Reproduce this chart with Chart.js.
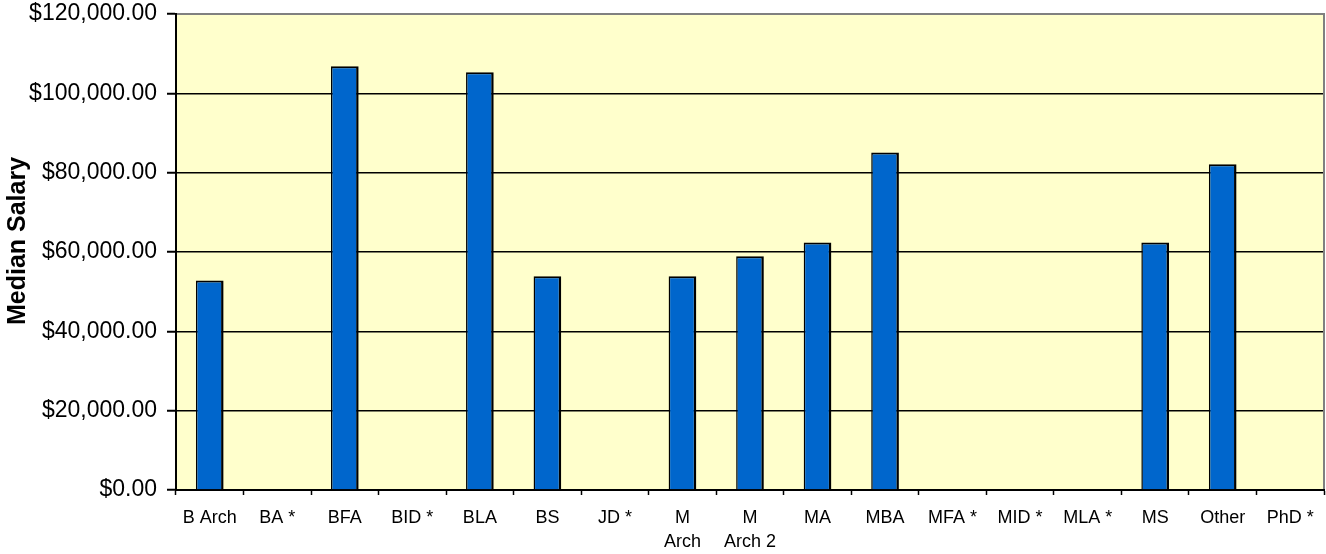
<!DOCTYPE html>
<html>
<head>
<meta charset="utf-8">
<script src="https://cdn.jsdelivr.net/npm/chart.js@4"></script>
<style>
  html, body { margin: 0; padding: 0; background: #ffffff; }
  #wrap { width: 1326px; height: 554px; }
</style>
</head>
<body>
<div id="wrap"><canvas id="c" width="1326" height="554"></canvas></div>
<script>
const categories = [
  'B Arch', 'BA *', 'BFA', 'BID *', 'BLA', 'BS', 'JD *', ['M', 'Arch'], ['M', 'Arch 2'],
  'MA', 'MBA', 'MFA *', 'MID *', 'MLA *', 'MS', 'Other', 'PhD *'
];
const medianSalary = [
  52800, null, 106800, null, 105300, 53900, null, 53900, 58900,
  62400, 85100, null, null, null, 62400, 82100, null
];
const yTicks = { min: 0, max: 120000, step: 20000 };
const axisTitle = 'Median Salary';

const FONT = "'Liberation Sans', Arial, sans-serif";

const bgPlugin = {
  id: 'plotBg',
  beforeDraw(chart) {
    const a = chart.chartArea, ctx = chart.ctx;
    ctx.save();
    ctx.fillStyle = '#FFFFCC';
    ctx.fillRect(a.left, a.top, a.right - a.left, a.bottom - a.top);
    ctx.restore();
  },
  afterDraw(chart) {
    const a = chart.chartArea, ctx = chart.ctx;
    ctx.save();
    ctx.strokeStyle = '#808080';
    ctx.lineWidth = 2;
    ctx.beginPath();
    ctx.moveTo(a.left + 1, a.top);
    ctx.lineTo(a.right, a.top);
    ctx.lineTo(a.right, a.bottom - 1);
    ctx.stroke();
    // y axis title, drawn slightly above the plot centre as in the reference
    ctx.fillStyle = '#000000';
    ctx.font = 'bold 25px ' + FONT;
    ctx.textAlign = 'center';
    ctx.textBaseline = 'middle';
    ctx.translate(18, (a.top + a.bottom) / 2 - 11);
    ctx.rotate(-Math.PI / 2);
    ctx.fillText(axisTitle, 0, 0);
    ctx.restore();
  }
};

new Chart(document.getElementById('c'), {
  type: 'bar',
  data: {
    labels: categories,
    datasets: [{
      data: medianSalary,
      backgroundColor: '#0066CC',
      borderColor: '#000000',
      borderWidth: { left: 1.5, right: 2.5, top: 2, bottom: 0 },
      borderSkipped: 'bottom',
      barPercentage: 0.41,
      categoryPercentage: 1.0
    }]
  },
  plugins: [bgPlugin],
  options: {
    responsive: false,
    devicePixelRatio: 1,
    animation: false,
    layout: { padding: { top: 14, right: 2, left: 0, bottom: 0 } },
    plugins: { legend: { display: false }, tooltip: { enabled: false } },
    scales: {
      x: {
        afterFit(scale) { scale.height = 64; scale.paddingLeft = 0; scale.paddingRight = 0; },
        grid: {
          display: true,
          offset: true,
          drawOnChartArea: false,
          drawTicks: true,
          tickLength: 5,
          tickColor: '#000000',
          tickWidth: 1.5
        },
        border: { display: true, color: '#000000', width: 2 },
        ticks: {
          color: '#000000',
          font: { family: FONT, size: 18, lineHeight: 1.32 },
          padding: 11,
          maxRotation: 0,
          autoSkip: false
        }
      },
      y: {
        min: yTicks.min,
        max: yTicks.max,
        afterFit(scale) { scale.width = 176; scale.paddingTop = 0; scale.paddingBottom = 0; },
        grid: {
          color: (ctx) => (ctx.tick && ctx.tick.value === yTicks.max) ? '#808080' : '#000000',
          lineWidth: 1.5,
          drawTicks: true,
          tickLength: 9,
          tickColor: '#000000',
          tickWidth: 2
        },
        border: { display: true, color: '#000000', width: 2 },
        ticks: {
          stepSize: yTicks.step,
          color: '#000000',
          font: { family: FONT, size: 23 },
          padding: 10,
          callback: (v) => '$' + Number(v).toLocaleString('en-US', { minimumFractionDigits: 2, maximumFractionDigits: 2 })
        },
        title: { display: false }
      }
    }
  }
});
</script>
</body>
</html>
